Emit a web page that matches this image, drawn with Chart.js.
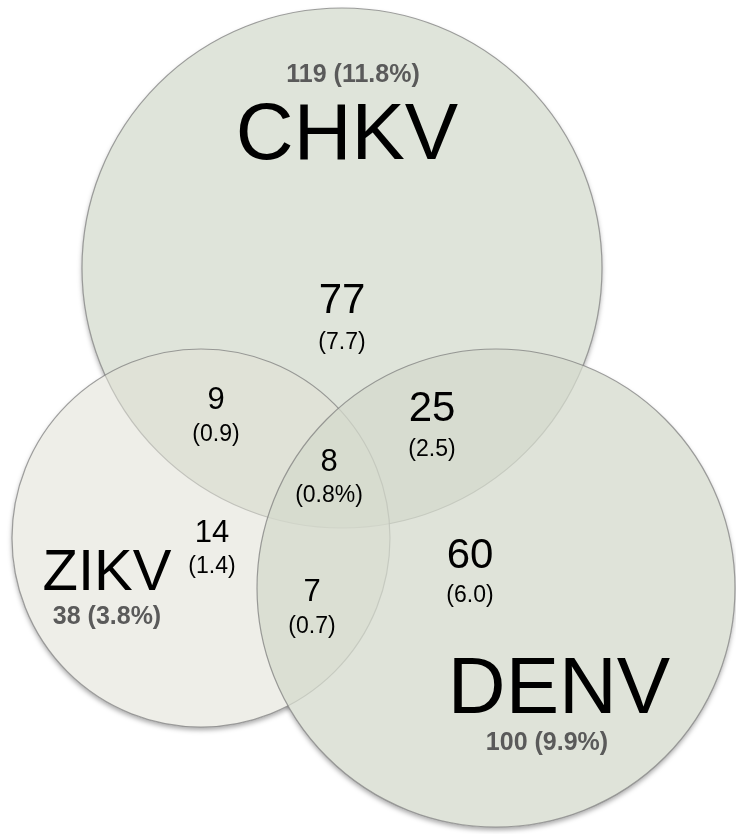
<!DOCTYPE html>
<html>
<head>
<meta charset="utf-8">
<script src="https://cdn.jsdelivr.net/npm/chart.js@4/dist/chart.umd.min.js"></script>
<style>
  html, body { margin: 0; padding: 0; background: #fff; }
  #venn { display: block; }
</style>
</head>
<body>
<canvas id="venn" width="736" height="834"></canvas>
<script>
// sets (one circle each)
const sets = ['CHKV', 'ZIKV', 'DENV'];
const setTotals = [119, 38, 100];
const setShares = ['11.8%', '3.8%', '9.9%'];

// region counts and shares (only CHKV, CHKV+ZIKV, CHKV+DENV, all three, only ZIKV, ZIKV+DENV, only DENV)
const regionCounts = [77, 9, 25, 8, 14, 7, 60];
const regionShares = ['7.7', '0.9', '2.5', '0.8%', '1.4', '0.7', '6.0'];

// circle layout, in chart units (axes span the canvas, so 1 unit = 1 px)
const circleX = [342, 201, 496];
const circleY = [268, 538, 588];
const circleR = [260, 189, 239];
const circleFill = ['rgba(212,219,205,0.75)', 'rgba(224,224,214,0.55)', 'rgba(212,218,204,0.75)'];

// where the texts go
const nameX = [347, 107, 559];
const nameY = [159, 590, 713];
const nameSize = [80, 58, 80];
const totalX = [353, 107, 547];
const totalY = [75, 617, 743];
const regionX = [342, 216, 432, 329, 212, 312, 470];
const countY = [301, 400, 409, 462, 533, 592, 556];
const shareY = [343, 435, 450, 496, 567, 627, 596];
const countSize = [42, 31, 42, 31, 31, 31, 42];

const FONT = '"Liberation Sans", Arial, Helvetica, sans-serif';

const vennText = {
    id: 'vennText',
    beforeDatasetsDraw(chart) {
        // soft drop shadow outside the circles only
        const ctx = chart.ctx;
        const els = chart.getDatasetMeta(0).data;
        ctx.save();
        ctx.fillStyle = '#fff';
        ctx.shadowColor = 'rgba(0,0,0,0.35)';
        ctx.shadowBlur = 5;
        ctx.shadowOffsetY = 3;
        els.forEach(function(el) {
            ctx.beginPath();
            ctx.arc(el.x, el.y, el.options.radius, 0, Math.PI * 2);
            ctx.fill();
        });
        ctx.shadowColor = 'rgba(0,0,0,0)';
        els.forEach(function(el) {
            ctx.beginPath();
            ctx.arc(el.x, el.y, el.options.radius, 0, Math.PI * 2);
            ctx.fill();
        });
        ctx.restore();
    },
    afterDatasetsDraw(chart) {
        const ctx = chart.ctx;
        const x = chart.scales.x;
        const y = chart.scales.y;
        ctx.save();
        ctx.textAlign = 'center';

        // set names
        ctx.fillStyle = '#000';
        ctx.textBaseline = 'alphabetic';
        sets.forEach(function(name, i) {
            ctx.font = nameSize[i] + 'px ' + FONT;
            ctx.fillText(name, x.getPixelForValue(nameX[i]), y.getPixelForValue(nameY[i]));
        });

        // set totals
        ctx.textBaseline = 'middle';
        ctx.fillStyle = '#5a5a5a';
        ctx.font = 'bold 25px ' + FONT;
        setTotals.forEach(function(t, i) {
            ctx.fillText(t + ' (' + setShares[i] + ')', x.getPixelForValue(totalX[i]), y.getPixelForValue(totalY[i]));
        });

        // regions
        ctx.fillStyle = '#000';
        regionCounts.forEach(function(c, i) {
            ctx.font = countSize[i] + 'px ' + FONT;
            ctx.fillText(String(c), x.getPixelForValue(regionX[i]), y.getPixelForValue(countY[i]));
            ctx.font = '23px ' + FONT;
            ctx.fillText('(' + regionShares[i] + ')', x.getPixelForValue(regionX[i]), y.getPixelForValue(shareY[i]));
        });
        ctx.restore();
    }
};

const points = sets.map(function(s, i) {
    return { x: circleX[i], y: circleY[i], r: circleR[i] };
});

new Chart(document.getElementById('venn'), {
    type: 'bubble',
    data: {
        labels: sets,
        datasets: [{
            data: points,
            backgroundColor: circleFill,
            borderColor: 'rgba(120,120,120,0.7)',
            borderWidth: 1.2,
            clip: false
        }]
    },
    options: {
        responsive: false,
        animation: false,
        events: [],
        layout: { padding: 0, autoPadding: false },
        plugins: {
            legend: { display: false },
            tooltip: { enabled: false }
        },
        scales: {
            x: { type: 'linear', min: 0, max: 736, display: false },
            y: { type: 'linear', min: 0, max: 834, reverse: true, display: false }
        }
    },
    plugins: [vennText]
});
</script>
</body>
</html>
